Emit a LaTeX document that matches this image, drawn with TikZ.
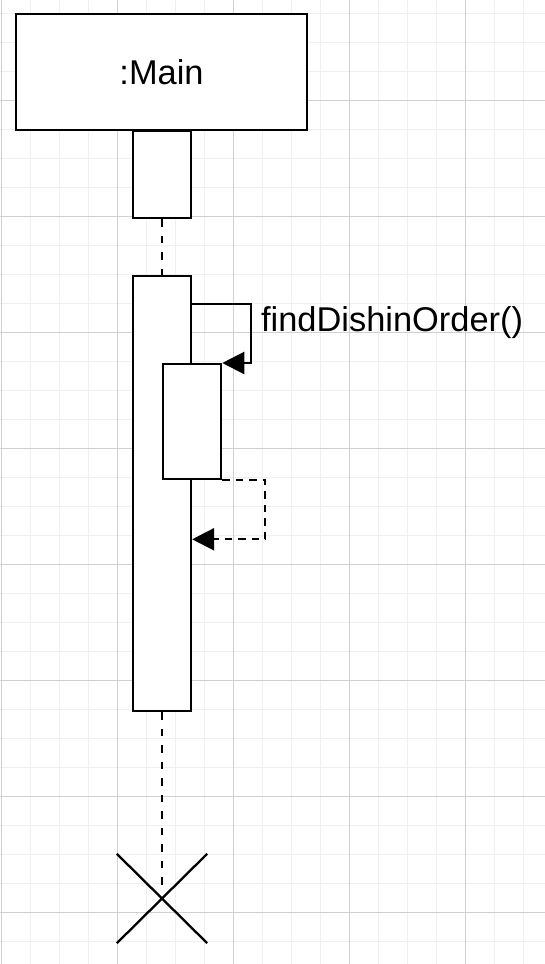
\documentclass[tikz,border=0pt]{standalone}
\usepackage{fontspec}
\setmainfont{Liberation Sans}
\usetikzlibrary{arrows.meta, calc, shapes.misc}

\begin{document}
\begin{tikzpicture}[x=1pt, y=-1pt, line width=2.3pt,
        box/.style={draw, fill=white, inner sep=0pt},
        lifeline/.style={dash pattern=on 7.5pt off 9pt},
        call/.style={-{Triangle[length=22pt, width=22pt]}},
        back/.style={-{Triangle[length=22pt, width=22pt]}, dash pattern=on 7.5pt off 6pt},
        every node/.style={font=\fontsize{34.4}{40}\selectfont}]
            \useasboundingbox (0, 0) rectangle (545, 964);
            \foreach \gx in {0,...,18}
                \draw[line width=1pt, gray!12] (1+29*\gx, 0) -- (1+29*\gx, 964);
            \foreach \gy in {0,...,32}
                \draw[line width=1pt, gray!12] (0, 13+29*\gy) -- (545, 13+29*\gy);
            \foreach \gx in {0,...,4}
                \draw[line width=1pt, gray!37] (1+116*\gx, 0) -- (1+116*\gx, 964);
            \foreach \gy in {0,...,7}
                \draw[line width=1pt, gray!37] (0, 100+116*\gy) -- (545, 100+116*\gy);

            \node[box, minimum width=58pt, minimum height=87pt, anchor=north] (act1) at (162, 130) {};
            \node[box, minimum width=291pt, minimum height=116pt] (main) at (161.5, 72) {:Main};
            \node[box, minimum width=58pt, minimum height=435pt, anchor=north] (act2) at (162, 275) {};
            \node[box, minimum width=58pt, minimum height=115pt, anchor=north west] (act3) at (162, 363) {};
            \node[draw, cross out, minimum width=88pt, minimum height=87pt, inner sep=0pt] (stop) at (162, 898.5) {};

            \draw[lifeline] (act1.south) -- (act2.north);
            \draw[lifeline, shorten >=14pt] (act2.south) -- (stop.center);

            \draw[call] ($(act2.north east)+(0, 29)$) -| ($(act3.north east)+(29, 0)$) -- (act3.north east);
            \node[anchor=base west, inner sep=0pt] (msg) at (260, 331) {findDishinOrder()};
            \draw[back] (act3.south east) -| ($(act3.south east)+(43, 59)$) -- (act2.east |- {$(act3.south east)+(0, 59)$});
        \end{tikzpicture}
\end{document}
